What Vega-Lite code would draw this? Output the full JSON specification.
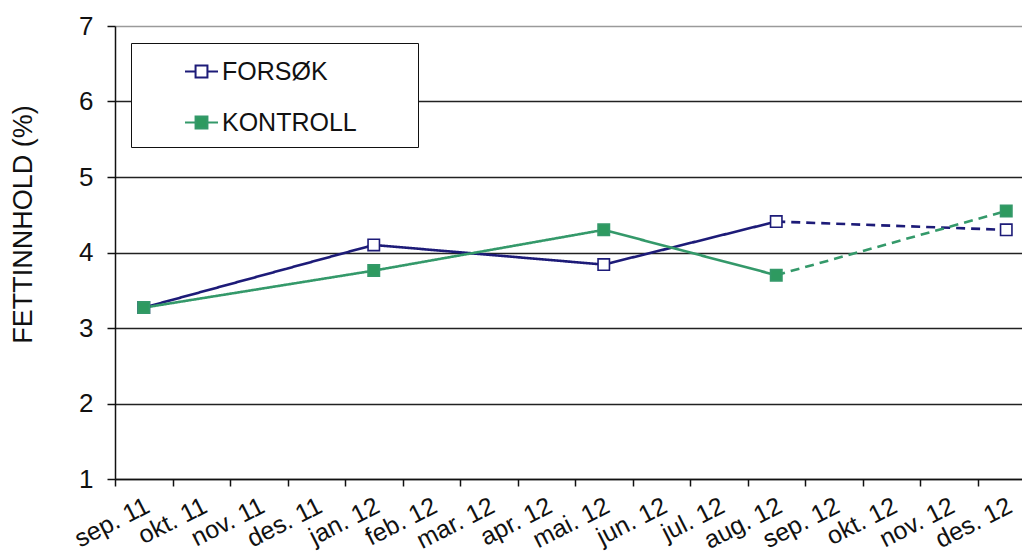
{
  "$schema": "https://vega.github.io/schema/vega-lite/v6.json",
  "width": 907,
  "height": 453,
  "autosize": "none",
  "padding": {"left": 115, "top": 26, "right": 0, "bottom": 77},
  "background": "white",
  "config": {
    "view": {"stroke": null},
    "font": "Liberation Sans",
    "axis": {"labelColor": "#111", "titleColor": "#111", "labelFont": "Liberation Sans", "titleFont": "Liberation Sans"},
    "legend": {
      "orient": "none",
      "legendX": 16,
      "legendY": 17,
      "strokeColor": "#111",
      "fillColor": "white",
      "padding": 11,
      "symbolType": "M-1,0H-0.36M0.36,0H1M-0.36,-0.36H0.36V0.36H-0.36Z",
      "symbolSize": 1089,
      "symbolStrokeWidth": 2,
      "symbolOffset": 42,
      "labelOffset": 3,
      "labelFontSize": 25,
      "labelColor": "#111",
      "labelFont": "Liberation Sans",
      "rowPadding": 20,
      "titleOrient": "right",
      "titleFontSize": 8,
      "titlePadding": 47,
      "titleColor": "white"
    }
  },
  "datasets": {
    "lines": [
      {"series": "FORSØK", "month": "sep. 11", "value": 3.27, "style": "solid"},
      {"series": "FORSØK", "month": "jan. 12", "value": 4.10, "style": "solid"},
      {"series": "FORSØK", "month": "mai. 12", "value": 3.84, "style": "solid"},
      {"series": "FORSØK", "month": "aug. 12", "value": 4.41, "style": "solid"},
      {"series": "FORSØK", "month": "aug. 12", "value": 4.41, "style": "dashed"},
      {"series": "FORSØK", "month": "des. 12", "value": 4.30, "style": "dashed"},
      {"series": "KONTROLL", "month": "sep. 11", "value": 3.27, "style": "solid"},
      {"series": "KONTROLL", "month": "jan. 12", "value": 3.76, "style": "solid"},
      {"series": "KONTROLL", "month": "mai. 12", "value": 4.30, "style": "solid"},
      {"series": "KONTROLL", "month": "aug. 12", "value": 3.70, "style": "solid"},
      {"series": "KONTROLL", "month": "aug. 12", "value": 3.70, "style": "dashed"},
      {"series": "KONTROLL", "month": "des. 12", "value": 4.55, "style": "dashed"}
    ],
    "points": [
      {"series": "FORSØK", "month": "sep. 11", "value": 3.27},
      {"series": "FORSØK", "month": "jan. 12", "value": 4.10},
      {"series": "FORSØK", "month": "mai. 12", "value": 3.84},
      {"series": "FORSØK", "month": "aug. 12", "value": 4.41},
      {"series": "FORSØK", "month": "des. 12", "value": 4.30},
      {"series": "KONTROLL", "month": "sep. 11", "value": 3.27},
      {"series": "KONTROLL", "month": "jan. 12", "value": 3.76},
      {"series": "KONTROLL", "month": "mai. 12", "value": 4.30},
      {"series": "KONTROLL", "month": "aug. 12", "value": 3.70},
      {"series": "KONTROLL", "month": "des. 12", "value": 4.55}
    ]
  },
  "encoding": {
    "x": {
      "field": "month",
      "type": "ordinal",
      "scale": {
        "type": "band",
        "domain": ["sep. 11", "okt. 11", "nov. 11", "des. 11", "jan. 12", "feb. 12", "mar. 12", "apr. 12", "mai. 12", "jun. 12", "jul. 12", "aug. 12", "sep. 12", "okt. 12", "nov. 12", "des. 12"],
        "paddingInner": 0,
        "paddingOuter": 0,
        "range": [0, 920]
      },
      "axis": {
        "title": null,
        "tickBand": "extent",
        "labelAngle": -27,
        "labelAlign": "right",
        "labelBaseline": "top",
        "labelFontSize": 25,
        "labelPadding": 7,
        "labelOffset": -2,
        "labelOverlap": false,
        "labelBound": false,
        "tickSize": 7,
        "tickColor": "#111",
        "tickWidth": 1.5,
        "domainColor": "#111",
        "domainWidth": 1.5,
        "grid": false
      }
    },
    "y": {
      "field": "value",
      "type": "quantitative",
      "scale": {"domain": [1, 7], "nice": false, "zero": false},
      "axis": {
        "title": "FETTINNHOLD  (%)",
        "titleFontSize": 27,
        "titleFontWeight": "normal",
        "titleX": -78,
        "titleY": 198,
        "values": [1, 2, 3, 4, 5, 6, 7],
        "labelFontSize": 26,
        "labelPadding": 14,
        "tickSize": 8,
        "tickColor": "#111",
        "tickWidth": 1.5,
        "domainColor": "#111",
        "domainWidth": 1.5,
        "grid": true,
        "gridColor": {"condition": {"test": "datum.value === 7", "value": "#9a9a9a"}, "value": "#222"},
        "gridWidth": 1.3
      }
    }
  },
  "layer": [
    {
      "data": {"name": "lines"},
      "mark": {"type": "line", "strokeWidth": 2.6},
      "encoding": {
        "stroke": {
          "field": "series",
          "type": "nominal",
          "scale": {"domain": ["FORSØK", "KONTROLL"], "range": ["#1d1b78", "#34996a"]},
          "legend": {"title": "."}
        },
        "strokeDash": {
          "field": "style",
          "type": "nominal",
          "scale": {"domain": ["solid", "dashed"], "range": [[1, 0], [9, 6]]},
          "legend": null
        }
      }
    },
    {
      "data": {"name": "points"},
      "mark": {"type": "point", "shape": "square", "size": 130, "strokeWidth": 1.6, "opacity": 1},
      "encoding": {
        "stroke": {
          "field": "series",
          "type": "nominal",
          "legend": {"title": "."}
        },
        "fill": {
          "field": "series",
          "type": "nominal",
          "scale": {"domain": ["FORSØK", "KONTROLL"], "range": ["#ffffff", "#2e9a60"]},
          "legend": {"title": "."}
        }
      }
    }
  ]
}
